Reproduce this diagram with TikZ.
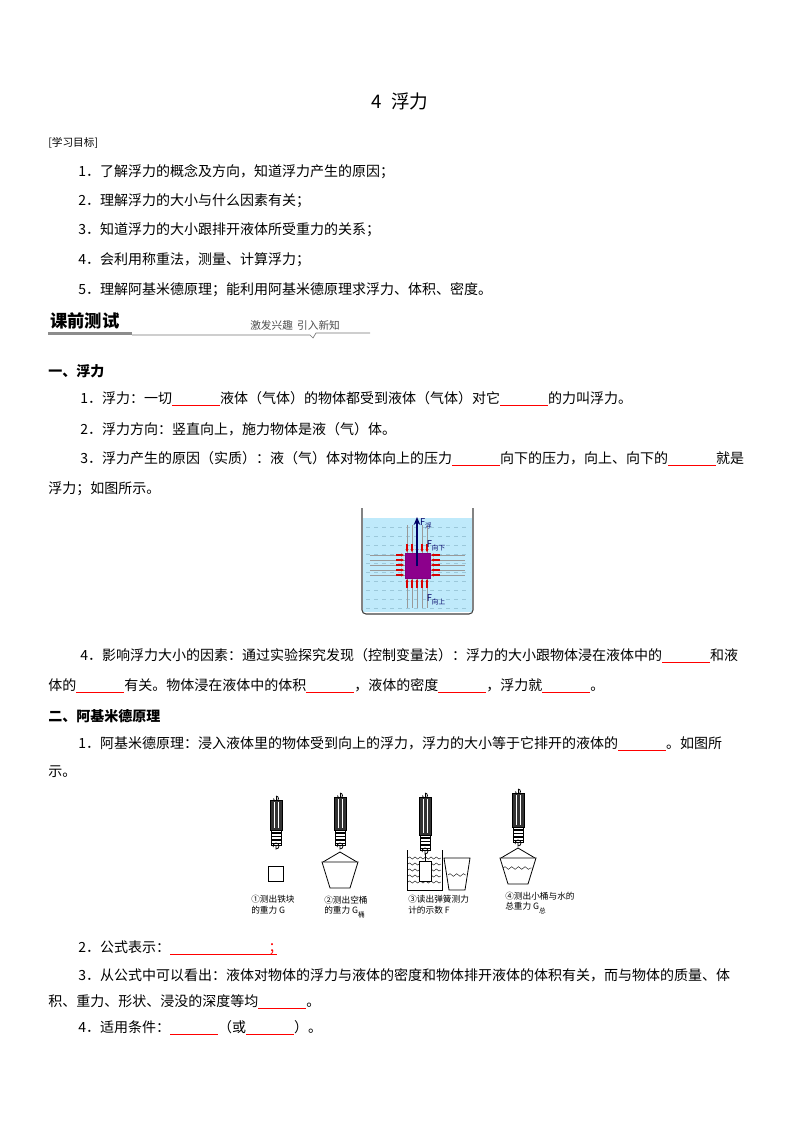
\documentclass[tikz,border=0pt]{standalone}
\usepackage{fontspec}
\setmainfont{Noto Sans CJK SC}
\usetikzlibrary{arrows.meta,decorations.pathmorphing}
\newcommand\bk[1][36pt]{{\color{red}\rule[-2pt]{#1}{0.8pt}}}
\tikzset{
 txt/.style={anchor=west,inner sep=0pt,font=\fontsize{10.5pt}{12pt}\selectfont},
 captext/.style={anchor=west,inner sep=0pt,font=\fontsize{6.5pt}{8pt}\selectfont,align=left},
 rarr/.style={red!85!black,-{Stealth[length=2.2pt,width=2.2pt]},line width=0.9pt},
 body/.style={draw,fill=black!80,line width=0.4pt},
}
\newcommand\scalebody[3]{% x, ytop, ybottom
 \draw[line width=0.6pt] (#1,#2-4) arc(-90:180:2.5) ;
 \draw[line width=0.6pt] (#1,#2-4) -- (#1,#2);
 \draw[body] (#1-6,#2) rectangle (#1+6,#3);
 \draw[white,line width=0.5pt] (#1-2,#2+2) -- (#1-2,#3-2) (#1+2,#2+2) -- (#1+2,#3-2);
 \foreach \k in {0,1,2,3} \draw[line width=0.8pt] (#1-5,#3+3+\k*3.5) -- (#1+5,#3+3+\k*3.5);
 \draw[line width=0.6pt] (#1-5,#3) rectangle (#1+5,#3+15);
 \draw[line width=0.6pt] (#1,#3+15) -- (#1,#3+19) arc(90:-200:3);
}
\begin{document}
\begin{tikzpicture}[x=0.75pt,y=-0.75pt]
\useasboundingbox (0,0) rectangle (800,1132);
\node[font=\fontsize{14pt}{16pt}\selectfont,inner sep=0pt] (title) at (400,101) {4\hspace{0.5em}浮力};
\node[txt,font=\fontsize{8pt}{9pt}\selectfont] (goal) at (48,143) {[学习目标]};
\node[txt] (g1) at (78,172) {1．了解浮力的概念及方向，知道浮力产生的原因；};
\node[txt] (g2) at (78,201) {2．理解浮力的大小与什么因素有关；};
\node[txt] (g3) at (78,230) {3．知道浮力的大小跟排开液体所受重力的关系；};
\node[txt] (g4) at (78,260) {4．会利用称重法，测量、计算浮力；};
\node[txt] (g5) at (78,290) {5．理解阿基米德原理；能利用阿基米德原理求浮力、体积、密度。};
% banner
\node[txt,font=\fontsize{13pt}{14pt}\selectfont\bfseries] (ban) at (50,321) {课前测试};
\node[txt,font=\fontsize{8pt}{9pt}\selectfont,text=black!70] (ban2) at (250,325) {激发兴趣\hspace{0.4em}引入新知};
\fill[black!45] (48,332) rectangle (132,335);
\draw[black!55,line width=0.5pt] (132,335) -- (310,335) -- (313,338) -- (316,333) -- (370,333);
% section 1
\node[txt,font=\fontsize{10.5pt}{12pt}\selectfont\bfseries] (s1) at (48,371) {一、浮力};
\node[txt] (a1) at (80,399) {1．浮力：一切\bk 液体（气体）的物体都受到液体（气体）对它\bk 的力叫浮力。};
\node[txt] (a2) at (80,429) {2．浮力方向：竖直向上，施力物体是液（气）体。};
\node[txt] (a3) at (80,459) {3．浮力产生的原因（实质）：液（气）体对物体向上的压力\bk 向下的压力，向上、向下的\bk 就是};
\node[txt] (a3b) at (48,489) {浮力；如图所示。};
% beaker
\fill[cyan!25!white] (363,518) rectangle (472,612);
\foreach \yy in {527,536,...,608} \draw[cyan!50!gray!60,dashed,line width=0.3pt] (366,\yy) -- (470,\yy);
\draw[line width=0.8pt,black!75] (362,508) -- (362,610) to[out=-90,in=180] (366,614) -- (469,614) to[out=0,in=-90] (473,610) -- (473,508);
\foreach \xx in {407,412,417,422,427} {
 \draw[black!40,line width=0.3pt] (\xx,525) -- (\xx,608);
 \draw[rarr] (\xx,544) -- (\xx,552);
 \draw[rarr] (\xx,588) -- (\xx,579);}
\foreach \yy in {555,560,565,570,575} {
 \draw[black!40,line width=0.3pt] (370,\yy) -- (465,\yy);
 \draw[rarr] (396,\yy) -- (404,\yy);
 \draw[rarr] (440,\yy) -- (431,\yy);}
\draw[fill=violet!90!magenta,draw=violet] (405,553) rectangle (430,578);
\draw[blue!40!black,line width=1.4pt,-{Stealth[length=6pt,width=5pt]}] (417,566) -- (417,517);
\node[font=\fontsize{7pt}{8pt}\selectfont\itshape,text=blue!40!black,inner sep=0pt] (ff) at (426,524) {F\raisebox{-2pt}{\tiny 浮}};
\node[font=\fontsize{7pt}{8pt}\selectfont\itshape,text=blue!40!black,inner sep=0pt] (fd) at (436,546) {F\raisebox{-2pt}{\tiny 向下}};
\node[font=\fontsize{7pt}{8pt}\selectfont\itshape,text=blue!40!black,inner sep=0pt] (fu) at (436,600) {F\raisebox{-2pt}{\tiny 向上}};
\node[txt] (a4) at (80,656) {4．影响浮力大小的因素：通过实验探究发现（控制变量法）：浮力的大小跟物体浸在液体中的\bk 和液};
\node[txt] (a4b) at (48,686) {体的\bk 有关。物体浸在液体中的体积\bk ，液体的密度\bk ，浮力就\bk 。};
% section 2
\node[txt,font=\fontsize{10.5pt}{12pt}\selectfont\bfseries] (s2) at (48,716) {二、阿基米德原理};
\node[txt] (b1) at (78,744) {1．阿基米德原理：浸入液体里的物体受到向上的浮力，浮力的大小等于它排开的液体的\bk 。如图所};
\node[txt] (b1b) at (48,772) {示。};
% spring scales
\scalebody{276}{800}{830}
\draw[fill=white,line width=0.6pt] (268,866) rectangle (283,881);
\scalebody{340}{797}{830}
\draw[line width=0.6pt] (340,852) -- (323,862) (340,852) -- (357,862);
\draw[fill=white,line width=0.6pt] (322,862) -- (358,862) -- (350,888) -- (330,888) -- cycle;
\scalebody{425}{797}{835}
\draw[line width=0.6pt] (407,850) -- (407,890) -- (442,890) -- (442,850);
\foreach \yy in {858,864,...,886} \draw[decorate,decoration={snake,amplitude=0.8,segment length=4},line width=0.3pt] (408,\yy) -- (441,\yy);
\draw[fill=white,line width=0.6pt] (419,861) rectangle (431,881);
\draw[line width=0.6pt] (425,854) -- (425,861);
\draw[fill=white,line width=0.6pt] (444,858) -- (470,858) -- (465,890) -- (449,890) -- cycle;
\draw[decorate,decoration={snake,amplitude=1,segment length=5},line width=0.3pt] (448,875) -- (466,875);
\scalebody{518}{793}{827}
\draw[line width=0.6pt] (518,848) -- (501,858) (518,848) -- (535,858);
\draw[fill=white,line width=0.6pt] (500,858) -- (536,858) -- (528,884) -- (508,884) -- cycle;
\draw[decorate,decoration={snake,amplitude=1,segment length=5},line width=0.3pt] (503,868) -- (533,868);
\node[captext] (c1) at (251,905) {①测出铁块\\的重力 G};
\node[captext] (c2) at (324,907) {②测出空桶\\的重力 G\raisebox{-3pt}{\tiny 桶}};
\node[captext] (c3) at (408,905) {③读出弹簧测力\\计的示数 F};
\node[captext] (c4) at (505,903) {④测出小桶与水的\\总重力 G\raisebox{-3pt}{\tiny 总}};
\node[txt] (b2) at (78,948) {2．公式表示：{\color{red}\rule[-2pt]{80pt}{0.8pt}\hspace{-6pt}；}};
\node[txt] (b3) at (78,975) {3．从公式中可以看出：液体对物体的浮力与液体的密度和物体排开液体的体积有关，而与物体的质量、体};
\node[txt] (b3b) at (48,1002) {积、重力、形状、浸没的深度等均\bk 。};
\node[txt] (b4) at (78,1028) {4．适用条件：\bk （或\bk ）。};
\end{tikzpicture}
\end{document}
